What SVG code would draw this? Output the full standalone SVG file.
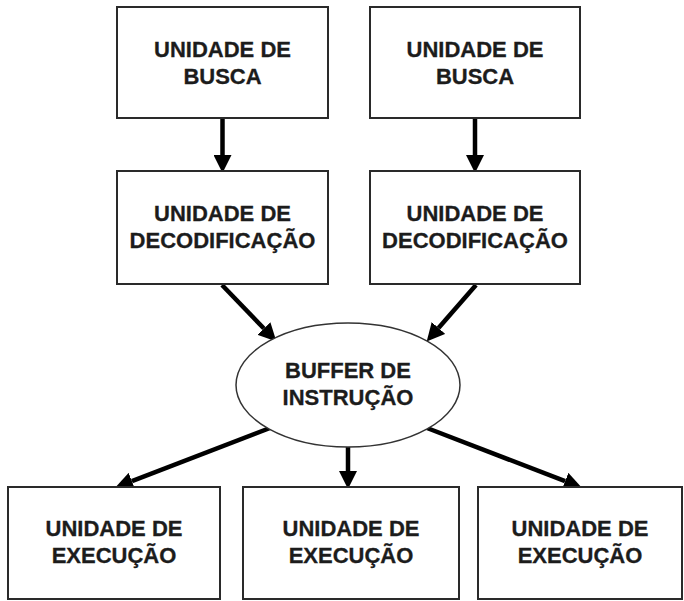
<svg xmlns="http://www.w3.org/2000/svg" width="684" height="601" viewBox="0 0 684 601">
<style>
.box{fill:#fff;stroke:#2a2a2a;stroke-width:2}
.ell{fill:#fff;stroke:#333;stroke-width:1.5}
.t{font-family:"Liberation Sans",Arial,sans-serif;font-weight:bold;font-size:22px;fill:#1c1c1c;stroke:#1c1c1c;stroke-width:0.3;text-anchor:middle}
.c{stroke:#000;stroke-width:4.5;fill:none;marker-end:url(#ah)}
</style>
<defs>
<marker id="ah" markerUnits="userSpaceOnUse" markerWidth="18" markerHeight="18" viewBox="0 -8 16 16" refX="0" refY="0" orient="auto">
<path d="M0,-8 L16,0 L0,8 Z" fill="#000"/>
</marker>
</defs>
<rect width="684" height="601" fill="#fff"/>
<g id="connectors">
<line class="c" x1="222.5" y1="118" x2="222.5" y2="155"/>
<line class="c" x1="475" y1="118" x2="475" y2="155"/>
<line class="c" x1="222" y1="285" x2="263.9" y2="328.5"/>
<line class="c" x1="476" y1="285" x2="438.5" y2="328"/>
<line class="c" x1="270" y1="428" x2="131.9" y2="481.2"/>
<line class="c" x1="348" y1="447" x2="348" y2="471"/>
<line class="c" x1="427" y1="428" x2="565.1" y2="481.2"/>
</g>
<g id="busca1">
<rect class="box" x="117" y="7" width="211" height="111"/>
<text class="t" x="222.5" y="57">UNIDADE DE</text>
<text class="t" x="222.5" y="84">BUSCA</text>
</g>
<g id="busca2">
<rect class="box" x="370" y="7" width="210" height="111"/>
<text class="t" x="475" y="57">UNIDADE DE</text>
<text class="t" x="475" y="84">BUSCA</text>
</g>
<g id="decod1">
<rect class="box" x="117" y="171" width="211" height="113"/>
<text class="t" x="222.5" y="221">UNIDADE DE</text>
<text class="t" x="222.5" y="248">DECODIFICAÇÃO</text>
</g>
<g id="decod2">
<rect class="box" x="370" y="171" width="210" height="113"/>
<text class="t" x="475" y="221">UNIDADE DE</text>
<text class="t" x="475" y="248">DECODIFICAÇÃO</text>
</g>
<g id="buffer">
<ellipse class="ell" cx="348" cy="385" rx="112" ry="62"/>
<text class="t" x="348" y="378">BUFFER DE</text>
<text class="t" x="348" y="405">INSTRUÇÃO</text>
</g>
<g id="exec1">
<rect class="box" x="8" y="487" width="212" height="112"/>
<text class="t" x="114" y="536">UNIDADE DE</text>
<text class="t" x="114" y="563">EXECUÇÃO</text>
</g>
<g id="exec2">
<rect class="box" x="243" y="487" width="216" height="112"/>
<text class="t" x="351" y="536">UNIDADE DE</text>
<text class="t" x="351" y="563">EXECUÇÃO</text>
</g>
<g id="exec3">
<rect class="box" x="478" y="487" width="204" height="112"/>
<text class="t" x="580" y="536">UNIDADE DE</text>
<text class="t" x="580" y="563">EXECUÇÃO</text>
</g>
</svg>
